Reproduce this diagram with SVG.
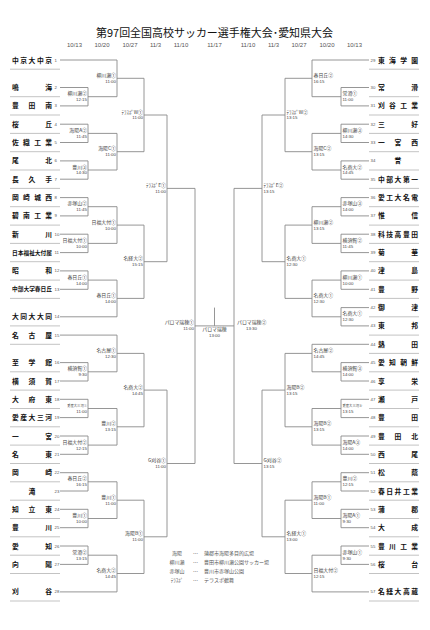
<svg xmlns="http://www.w3.org/2000/svg" width="430" height="630" viewBox="0 0 430 630">
<style>
.bg{fill:#fff}
.ttl{font-family:"Noto Sans CJK JP","Noto Sans",sans-serif;font-size:11px;fill:#111}
.dt{font-family:"Liberation Sans",Arial,sans-serif;font-size:6px;fill:#555;text-anchor:middle}
.tn{font-family:"Noto Sans CJK JP",sans-serif;font-size:6.8px;font-weight:bold;fill:#111}
.tn.s{font-size:5.6px}
.no{font-family:"Liberation Sans",Arial,sans-serif;font-size:4.3px;fill:#555}
.sep{stroke:#b4b4b4;stroke-width:0.8}
.ln{fill:none;stroke:#8a8a8a;stroke-width:0.9}
.v{font-family:"Noto Sans CJK JP",sans-serif;font-size:4.9px;fill:#444}
.v.sm{font-size:3.3px}
.t{font-family:"Liberation Sans",Arial,sans-serif;font-size:4.4px;fill:#444}
.ml text{text-anchor:end}
.mr text{text-anchor:start}
.mc text{text-anchor:middle}
.lg{font-family:"Noto Sans CJK JP",sans-serif;font-size:5px;fill:#555}
</style>
<rect class="bg" x="0" y="0" width="430" height="630"/>
<g id="title"><text class="ttl" x="96" y="37" textLength="237" lengthAdjust="spacingAndGlyphs">第97回全国高校サッカー選手権大会･愛知県大会</text></g>
<g id="dates">
<text class="dt" x="74.5" y="46.5">10/13</text><text class="dt" x="102" y="46.5">10/20</text><text class="dt" x="130" y="46.5">10/27</text><text class="dt" x="155.5" y="46.5">11/3</text><text class="dt" x="181" y="46.5">11/10</text><text class="dt" x="214.5" y="46.5">11/17</text><text class="dt" x="248" y="46.5">11/10</text><text class="dt" x="273.5" y="46.5">11/3</text><text class="dt" x="299" y="46.5">10/27</text><text class="dt" x="327" y="46.5">10/20</text><text class="dt" x="354.5" y="46.5">10/13</text>
</g>
<g id="connectors" class="ln">
<path d="M60,87.5H88V105.9H60M88,96.7H117M60,124.2H88V142.5H60M88,133.4H117M60,160.9H88V179.2H60M88,170H117M60,197.6H88V215.9H60M88,206.7H117M60,234.2H88V252.6H60M88,243.4H117M60,270.9H88V289.3H60M88,280.1H117M60,362.6H88V381H60M88,371.8H117M60,399.3H88V417.6H60M88,408.5H117M60,436H88V454.3H60M88,445.1H117M60,472.7H88V491H60M88,481.8H117M60,509.3H88V527.7H60M88,518.5H117M60,546H88V564.4H60M88,555.2H117"/>
<path d="M60,60H117M60,316.8H117M60,335.1H117M60,591.9H117"/>
<path d="M117,60V96.7M117,78.3H144M117,133.4V170M117,151.7H144M117,206.7V243.4M117,225.1H144M117,280.1V316.8M117,298.4H144M117,335.1V371.8M117,353.4H144M117,408.5V445.1M117,426.8H144M117,481.8V518.5M117,500.2H144M117,555.2V591.9M117,573.5H144"/>
<path d="M144,78.3V151.7M144,115H167M144,225.1V298.4M144,261.7H167M144,353.4V426.8M144,390.1H167M144,500.2V573.5M144,536.8H167"/>
<path d="M167,115V261.7M167,188.4H195M167,390.1V536.8M167,463.5H195"/>
<path d="M195,188.4V463.5M195,325.9H234M214.5,307.6V325.9"/>
<path d="M369,87.5H341V105.9H369M341,96.7H312M369,124.2H341V142.5H369M341,133.4H312M369,160.9H341V179.2H369M341,170H312M369,197.6H341V215.9H369M341,206.7H312M369,234.2H341V252.6H369M341,243.4H312M369,270.9H341V289.3H369M341,280.1H312M369,307.6H341V325.9H369M341,316.8H312M369,362.6H341V381H369M341,371.8H312M369,399.3H341V417.6H369M341,408.5H312M369,436H341V454.3H369M341,445.1H312M369,472.7H341V491H369M341,481.8H312M369,509.3H341V527.7H369M341,518.5H312M369,546H341V564.4H369M341,555.2H312"/>
<path d="M369,60H312M369,344.3H312M369,591.9H312"/>
<path d="M312,60V96.7M312,78.3H285M312,133.4V170M312,151.7H285M312,206.7V243.4M312,225.1H285M312,280.1V316.8M312,298.4H285M312,344.3V371.8M312,353.4H285M312,408.5V445.1M312,426.8H285M312,481.8V518.5M312,500.2H285M312,555.2V591.9M312,573.5H285"/>
<path d="M285,78.3V151.7M285,115H262M285,225.1V298.4M285,261.7H262M285,353.4V426.8M285,390.1H262M285,500.2V573.5M285,536.8H262"/>
<path d="M262,115V261.7M262,188.4H234M262,390.1V536.8M262,463.5H234M234,188.4V463.5"/>
</g>
<g id="team-1"><text class="tn" x="12" y="62.5" textLength="40" lengthAdjust="spacing">中京大中京</text><text class="no" x="54.5" y="61.5">1</text><line class="sep" x1="10" x2="60" y1="69.2" y2="69.2"/></g>
<g id="team-2"><text class="tn" x="12" y="90" textLength="40" lengthAdjust="spacing">鳴海</text><text class="no" x="54.5" y="89">2</text><line class="sep" x1="10" x2="60" y1="96.7" y2="96.7"/></g>
<g id="team-3"><text class="tn" x="12" y="108.4" textLength="40" lengthAdjust="spacing">豊田南</text><text class="no" x="54.5" y="107.4">3</text><line class="sep" x1="10" x2="60" y1="115" y2="115"/></g>
<g id="team-4"><text class="tn" x="12" y="126.7" textLength="40" lengthAdjust="spacing">桜丘</text><text class="no" x="54.5" y="125.7">4</text><line class="sep" x1="10" x2="60" y1="133.4" y2="133.4"/></g>
<g id="team-5"><text class="tn" x="12" y="145" textLength="40" lengthAdjust="spacing">佐織工業</text><text class="no" x="54.5" y="144">5</text><line class="sep" x1="10" x2="60" y1="151.7" y2="151.7"/></g>
<g id="team-6"><text class="tn" x="12" y="163.4" textLength="40" lengthAdjust="spacing">尾北</text><text class="no" x="54.5" y="162.4">6</text><line class="sep" x1="10" x2="60" y1="170" y2="170"/></g>
<g id="team-7"><text class="tn" x="12" y="181.7" textLength="40" lengthAdjust="spacing">長久手</text><text class="no" x="54.5" y="180.7">7</text><line class="sep" x1="10" x2="60" y1="188.4" y2="188.4"/></g>
<g id="team-8"><text class="tn" x="12" y="200.1" textLength="40" lengthAdjust="spacing">岡崎城西</text><text class="no" x="54.5" y="199.1">8</text><line class="sep" x1="10" x2="60" y1="206.7" y2="206.7"/></g>
<g id="team-9"><text class="tn" x="12" y="218.4" textLength="40" lengthAdjust="spacing">碧南工業</text><text class="no" x="54.5" y="217.4">9</text><line class="sep" x1="10" x2="60" y1="225.1" y2="225.1"/></g>
<g id="team-10"><text class="tn" x="12" y="236.7" textLength="40" lengthAdjust="spacing">新川</text><text class="no" x="54.5" y="235.7">10</text><line class="sep" x1="10" x2="60" y1="243.4" y2="243.4"/></g>
<g id="team-11"><text class="tn s" x="12" y="254.6" textLength="40" lengthAdjust="spacingAndGlyphs">日本福祉大付属</text><text class="no" x="54.5" y="254.1">11</text><line class="sep" x1="10" x2="60" y1="261.7" y2="261.7"/></g>
<g id="team-12"><text class="tn" x="12" y="273.4" textLength="40" lengthAdjust="spacing">昭和</text><text class="no" x="54.5" y="272.4">12</text><line class="sep" x1="10" x2="60" y1="280.1" y2="280.1"/></g>
<g id="team-13"><text class="tn s" x="12" y="291.3" textLength="40" lengthAdjust="spacingAndGlyphs">中部大学春日丘</text><text class="no" x="54.5" y="290.8">13</text><line class="sep" x1="10" x2="60" y1="298.4" y2="298.4"/></g>
<g id="team-14"><text class="tn" x="12" y="319.3" textLength="40" lengthAdjust="spacing">大同大大同</text><text class="no" x="54.5" y="318.3">14</text><line class="sep" x1="10" x2="60" y1="325.9" y2="325.9"/></g>
<g id="team-15"><text class="tn" x="12" y="337.6" textLength="40" lengthAdjust="spacing">名古屋</text><text class="no" x="54.5" y="336.6">15</text><line class="sep" x1="10" x2="60" y1="344.3" y2="344.3"/></g>
<g id="team-16"><text class="tn" x="12" y="365.1" textLength="40" lengthAdjust="spacing">至学館</text><text class="no" x="54.5" y="364.1">16</text><line class="sep" x1="10" x2="60" y1="371.8" y2="371.8"/></g>
<g id="team-17"><text class="tn" x="12" y="383.5" textLength="40" lengthAdjust="spacing">横須賀</text><text class="no" x="54.5" y="382.5">17</text><line class="sep" x1="10" x2="60" y1="390.1" y2="390.1"/></g>
<g id="team-18"><text class="tn" x="12" y="401.8" textLength="40" lengthAdjust="spacing">大府東</text><text class="no" x="54.5" y="400.8">18</text><line class="sep" x1="10" x2="60" y1="408.5" y2="408.5"/></g>
<g id="team-19"><text class="tn" x="12" y="420.1" textLength="40" lengthAdjust="spacing">愛産大三河</text><text class="no" x="54.5" y="419.1">19</text><line class="sep" x1="10" x2="60" y1="426.8" y2="426.8"/></g>
<g id="team-20"><text class="tn" x="12" y="438.5" textLength="40" lengthAdjust="spacing">一宮</text><text class="no" x="54.5" y="437.5">20</text><line class="sep" x1="10" x2="60" y1="445.1" y2="445.1"/></g>
<g id="team-21"><text class="tn" x="12" y="456.8" textLength="40" lengthAdjust="spacing">名東</text><text class="no" x="54.5" y="455.8">21</text><line class="sep" x1="10" x2="60" y1="463.5" y2="463.5"/></g>
<g id="team-22"><text class="tn" x="12" y="475.2" textLength="40" lengthAdjust="spacing">岡崎</text><text class="no" x="54.5" y="474.2">22</text><line class="sep" x1="10" x2="60" y1="481.8" y2="481.8"/></g>
<g id="team-23"><text class="tn" x="32" y="493.5" text-anchor="middle">滝</text><text class="no" x="54.5" y="492.5">23</text><line class="sep" x1="10" x2="60" y1="500.2" y2="500.2"/></g>
<g id="team-24"><text class="tn" x="12" y="511.8" textLength="40" lengthAdjust="spacing">知立東</text><text class="no" x="54.5" y="510.8">24</text><line class="sep" x1="10" x2="60" y1="518.5" y2="518.5"/></g>
<g id="team-25"><text class="tn" x="12" y="530.2" textLength="40" lengthAdjust="spacing">豊川</text><text class="no" x="54.5" y="529.2">25</text><line class="sep" x1="10" x2="60" y1="536.8" y2="536.8"/></g>
<g id="team-26"><text class="tn" x="12" y="548.5" textLength="40" lengthAdjust="spacing">愛知</text><text class="no" x="54.5" y="547.5">26</text><line class="sep" x1="10" x2="60" y1="555.2" y2="555.2"/></g>
<g id="team-27"><text class="tn" x="12" y="566.9" textLength="40" lengthAdjust="spacing">向陽</text><text class="no" x="54.5" y="565.9">27</text><line class="sep" x1="10" x2="60" y1="573.5" y2="573.5"/></g>
<g id="team-28"><text class="tn" x="12" y="594.4" textLength="40" lengthAdjust="spacing">刈谷</text><text class="no" x="54.5" y="593.4">28</text><line class="sep" x1="10" x2="60" y1="601" y2="601"/></g>
<g id="team-29"><text class="tn" x="378" y="62.5" textLength="40" lengthAdjust="spacing">東海学園</text><text class="no" x="370.5" y="61.5">29</text><line class="sep" x1="369" x2="419" y1="69.2" y2="69.2"/></g>
<g id="team-30"><text class="tn" x="378" y="90" textLength="40" lengthAdjust="spacing">常滑</text><text class="no" x="370.5" y="89">30</text><line class="sep" x1="369" x2="419" y1="96.7" y2="96.7"/></g>
<g id="team-31"><text class="tn" x="378" y="108.4" textLength="40" lengthAdjust="spacing">刈谷工業</text><text class="no" x="370.5" y="107.4">31</text><line class="sep" x1="369" x2="419" y1="115" y2="115"/></g>
<g id="team-32"><text class="tn" x="378" y="126.7" textLength="40" lengthAdjust="spacing">三好</text><text class="no" x="370.5" y="125.7">32</text><line class="sep" x1="369" x2="419" y1="133.4" y2="133.4"/></g>
<g id="team-33"><text class="tn" x="378" y="145" textLength="40" lengthAdjust="spacing">一宮西</text><text class="no" x="370.5" y="144">33</text><line class="sep" x1="369" x2="419" y1="151.7" y2="151.7"/></g>
<g id="team-34"><text class="tn" x="398" y="163.4" text-anchor="middle">誉</text><text class="no" x="370.5" y="162.4">34</text><line class="sep" x1="369" x2="419" y1="170" y2="170"/></g>
<g id="team-35"><text class="tn" x="378" y="181.7" textLength="40" lengthAdjust="spacing">中部大第一</text><text class="no" x="370.5" y="180.7">35</text><line class="sep" x1="369" x2="419" y1="188.4" y2="188.4"/></g>
<g id="team-36"><text class="tn" x="378" y="200.1" textLength="40" lengthAdjust="spacing">愛工大名電</text><text class="no" x="370.5" y="199.1">36</text><line class="sep" x1="369" x2="419" y1="206.7" y2="206.7"/></g>
<g id="team-37"><text class="tn" x="378" y="218.4" textLength="40" lengthAdjust="spacing">惟信</text><text class="no" x="370.5" y="217.4">37</text><line class="sep" x1="369" x2="419" y1="225.1" y2="225.1"/></g>
<g id="team-38"><text class="tn" x="378" y="236.7" textLength="40" lengthAdjust="spacing">科技高豊田</text><text class="no" x="370.5" y="235.7">38</text><line class="sep" x1="369" x2="419" y1="243.4" y2="243.4"/></g>
<g id="team-39"><text class="tn" x="378" y="255.1" textLength="40" lengthAdjust="spacing">菊華</text><text class="no" x="370.5" y="254.1">39</text><line class="sep" x1="369" x2="419" y1="261.7" y2="261.7"/></g>
<g id="team-40"><text class="tn" x="378" y="273.4" textLength="40" lengthAdjust="spacing">津島</text><text class="no" x="370.5" y="272.4">40</text><line class="sep" x1="369" x2="419" y1="280.1" y2="280.1"/></g>
<g id="team-41"><text class="tn" x="378" y="291.8" textLength="40" lengthAdjust="spacing">豊野</text><text class="no" x="370.5" y="290.8">41</text><line class="sep" x1="369" x2="419" y1="298.4" y2="298.4"/></g>
<g id="team-42"><text class="tn" x="378" y="310.1" textLength="40" lengthAdjust="spacing">御津</text><text class="no" x="370.5" y="309.1">42</text><line class="sep" x1="369" x2="419" y1="316.8" y2="316.8"/></g>
<g id="team-43"><text class="tn" x="378" y="328.4" textLength="40" lengthAdjust="spacing">東邦</text><text class="no" x="370.5" y="327.4">43</text><line class="sep" x1="369" x2="419" y1="335.1" y2="335.1"/></g>
<g id="team-44"><text class="tn" x="378" y="346.8" textLength="40" lengthAdjust="spacing">熱田</text><text class="no" x="370.5" y="345.8">44</text><line class="sep" x1="369" x2="419" y1="353.4" y2="353.4"/></g>
<g id="team-45"><text class="tn" x="378" y="365.1" textLength="40" lengthAdjust="spacing">愛知朝鮮</text><text class="no" x="370.5" y="364.1">45</text><line class="sep" x1="369" x2="419" y1="371.8" y2="371.8"/></g>
<g id="team-46"><text class="tn" x="378" y="383.5" textLength="40" lengthAdjust="spacing">享栄</text><text class="no" x="370.5" y="382.5">46</text><line class="sep" x1="369" x2="419" y1="390.1" y2="390.1"/></g>
<g id="team-47"><text class="tn" x="378" y="401.8" textLength="40" lengthAdjust="spacing">瀬戸</text><text class="no" x="370.5" y="400.8">47</text><line class="sep" x1="369" x2="419" y1="408.5" y2="408.5"/></g>
<g id="team-48"><text class="tn" x="378" y="420.1" textLength="40" lengthAdjust="spacing">豊田</text><text class="no" x="370.5" y="419.1">48</text><line class="sep" x1="369" x2="419" y1="426.8" y2="426.8"/></g>
<g id="team-49"><text class="tn" x="378" y="438.5" textLength="40" lengthAdjust="spacing">豊田北</text><text class="no" x="370.5" y="437.5">49</text><line class="sep" x1="369" x2="419" y1="445.1" y2="445.1"/></g>
<g id="team-50"><text class="tn" x="378" y="456.8" textLength="40" lengthAdjust="spacing">西尾</text><text class="no" x="370.5" y="455.8">50</text><line class="sep" x1="369" x2="419" y1="463.5" y2="463.5"/></g>
<g id="team-51"><text class="tn" x="378" y="475.2" textLength="40" lengthAdjust="spacing">松蔭</text><text class="no" x="370.5" y="474.2">51</text><line class="sep" x1="369" x2="419" y1="481.8" y2="481.8"/></g>
<g id="team-52"><text class="tn" x="378" y="493.5" textLength="40" lengthAdjust="spacing">春日井工業</text><text class="no" x="370.5" y="492.5">52</text><line class="sep" x1="369" x2="419" y1="500.2" y2="500.2"/></g>
<g id="team-53"><text class="tn" x="378" y="511.8" textLength="40" lengthAdjust="spacing">蒲郡</text><text class="no" x="370.5" y="510.8">53</text><line class="sep" x1="369" x2="419" y1="518.5" y2="518.5"/></g>
<g id="team-54"><text class="tn" x="378" y="530.2" textLength="40" lengthAdjust="spacing">大成</text><text class="no" x="370.5" y="529.2">54</text><line class="sep" x1="369" x2="419" y1="536.8" y2="536.8"/></g>
<g id="team-55"><text class="tn" x="378" y="548.5" textLength="40" lengthAdjust="spacing">豊川工業</text><text class="no" x="370.5" y="547.5">55</text><line class="sep" x1="369" x2="419" y1="555.2" y2="555.2"/></g>
<g id="team-56"><text class="tn" x="378" y="566.9" textLength="40" lengthAdjust="spacing">桜台</text><text class="no" x="370.5" y="565.9">56</text><line class="sep" x1="369" x2="419" y1="573.5" y2="573.5"/></g>
<g id="team-57"><text class="tn" x="378" y="594.4" textLength="40" lengthAdjust="spacing">名経大高蔵</text><text class="no" x="370.5" y="593.4">57</text><line class="sep" x1="369" x2="419" y1="601" y2="601"/></g>
<g id="matches-left" class="ml">
<g id="mL1a"><text class="v" x="87" y="95.2">柳川瀬②</text><text class="t" x="87" y="101.1">12:15</text></g>
<g id="mL1b"><text class="v" x="87" y="131.9">海陽A②</text><text class="t" x="87" y="137.8">11:45</text></g>
<g id="mL1c"><text class="v" x="87" y="168.5">豊川③</text><text class="t" x="87" y="174.4">14:30</text></g>
<g id="mL1d"><text class="v" x="87" y="205.2">赤塚山②</text><text class="t" x="87" y="211.1">11:45</text></g>
<g id="mL1e"><text class="v" x="87" y="241.9">日福大付①</text><text class="t" x="87" y="247.8">10:00</text></g>
<g id="mL1f"><text class="v" x="87" y="278.6">春日丘①</text><text class="t" x="87" y="284.5">14:00</text></g>
<g id="mL1g"><text class="v" x="87" y="370.3">横須賀①</text><text class="t" x="87" y="376.2">9:30</text></g>
<g id="mL1h"><text class="v sm" x="87" y="407">愛産大三河①</text><text class="t" x="87" y="412.9">11:00</text></g>
<g id="mL1i"><text class="v" x="87" y="443.6">日福大付②</text><text class="t" x="87" y="449.5">12:15</text></g>
<g id="mL1j"><text class="v" x="87" y="480.3">春日丘②</text><text class="t" x="87" y="486.2">16:15</text></g>
<g id="mL1k"><text class="v" x="87" y="517">豊川①</text><text class="t" x="87" y="522.9">10:00</text></g>
<g id="mL1l"><text class="v" x="87" y="553.7">常滑②</text><text class="t" x="87" y="559.6">13:15</text></g>
<g id="mL2a"><text class="v" x="116" y="76.8">柳川瀬①</text><text class="t" x="116" y="82.7">11:00</text></g>
<g id="mL2b"><text class="v" x="116" y="150.2">海陽C①</text><text class="t" x="116" y="156.1">11:00</text></g>
<g id="mL2c"><text class="v" x="116" y="223.6">日福大付①</text><text class="t" x="116" y="229.5">10:00</text></g>
<g id="mL2d"><text class="v" x="116" y="296.9">春日丘①</text><text class="t" x="116" y="302.8">14:00</text></g>
<g id="mL2e"><text class="v" x="116" y="351.9">名古屋①</text><text class="t" x="116" y="357.8">12:30</text></g>
<g id="mL2f"><text class="v" x="116" y="425.3">豊川②</text><text class="t" x="116" y="431.2">13:15</text></g>
<g id="mL2g"><text class="v" x="116" y="498.7">豊川①</text><text class="t" x="116" y="504.6">11:00</text></g>
<g id="mL2h"><text class="v" x="116" y="572">名商大②</text><text class="t" x="116" y="577.9">14:45</text></g>
<g id="mL3a"><text class="v" x="143" y="113.5">ﾃﾗｽﾎﾟW①</text><text class="t" x="143" y="119.4">11:00</text></g>
<g id="mL3b"><text class="v" x="143" y="260.2">名経大②</text><text class="t" x="143" y="266.1">15:15</text></g>
<g id="mL3c"><text class="v" x="143" y="388.6">名商大②</text><text class="t" x="143" y="394.5">14:45</text></g>
<g id="mL3d"><text class="v" x="143" y="535.3">海陽B①</text><text class="t" x="143" y="541.2">11:00</text></g>
<g id="mL4a"><text class="v" x="166" y="186.9">ﾃﾗｽﾎﾟE①</text><text class="t" x="166" y="192.8">11:00</text></g>
<g id="mL4b"><text class="v" x="166" y="462">G刈谷①</text><text class="t" x="166" y="467.9">11:00</text></g>
<g id="mL5"><text class="v" x="194" y="324.4">パロマ瑞穂①</text><text class="t" x="194" y="330.3">11:00</text></g>
</g>
<g id="match-final" class="mc"><text class="v" x="214.5" y="331">パロマ瑞穂</text><text class="t" x="214.5" y="336.5">13:00</text></g>
<g id="matches-right" class="mr">
<g id="mR1a"><text class="v" x="342.5" y="95.2">常滑①</text><text class="t" x="342.5" y="101.1">11:00</text></g>
<g id="mR1b"><text class="v" x="342.5" y="131.9">柳川瀬③</text><text class="t" x="342.5" y="137.8">14:30</text></g>
<g id="mR1c"><text class="v" x="342.5" y="168.5">名商大②</text><text class="t" x="342.5" y="174.4">14:45</text></g>
<g id="mR1d"><text class="v" x="342.5" y="205.2">赤塚山③</text><text class="t" x="342.5" y="211.1">14:00</text></g>
<g id="mR1e"><text class="v" x="342.5" y="241.9">横須賀②</text><text class="t" x="342.5" y="247.8">11:45</text></g>
<g id="mR1f"><text class="v" x="342.5" y="278.6">柳川瀬①</text><text class="t" x="342.5" y="284.5">10:00</text></g>
<g id="mR1g"><text class="v" x="342.5" y="315.3">名商大①</text><text class="t" x="342.5" y="321.2">12:30</text></g>
<g id="mR1h"><text class="v" x="342.5" y="370.3">横須賀③</text><text class="t" x="342.5" y="376.2">14:00</text></g>
<g id="mR1i"><text class="v sm" x="342.5" y="407">愛産大三河②</text><text class="t" x="342.5" y="412.9">13:15</text></g>
<g id="mR1j"><text class="v" x="342.5" y="443.6">海陽A③</text><text class="t" x="342.5" y="449.5">14:00</text></g>
<g id="mR1k"><text class="v" x="342.5" y="480.3">豊川②</text><text class="t" x="342.5" y="486.2">12:15</text></g>
<g id="mR1l"><text class="v" x="342.5" y="517">海陽A①</text><text class="t" x="342.5" y="522.9">9:30</text></g>
<g id="mR1m"><text class="v" x="342.5" y="553.7">赤塚山①</text><text class="t" x="342.5" y="559.6">9:30</text></g>
<g id="mR2a"><text class="v" x="313.5" y="76.8">春日丘②</text><text class="t" x="313.5" y="82.7">16:15</text></g>
<g id="mR2b"><text class="v" x="313.5" y="150.2">海陽C②</text><text class="t" x="313.5" y="156.1">13:15</text></g>
<g id="mR2c"><text class="v" x="313.5" y="223.6">柳川瀬②</text><text class="t" x="313.5" y="229.5">13:15</text></g>
<g id="mR2d"><text class="v" x="313.5" y="296.9">名商大①</text><text class="t" x="313.5" y="302.8">12:30</text></g>
<g id="mR2e"><text class="v" x="313.5" y="351.9">名古屋②</text><text class="t" x="313.5" y="357.8">14:45</text></g>
<g id="mR2f"><text class="v" x="313.5" y="425.3">海陽B②</text><text class="t" x="313.5" y="431.2">13:15</text></g>
<g id="mR2g"><text class="v" x="313.5" y="498.7">海陽B①</text><text class="t" x="313.5" y="504.6">11:00</text></g>
<g id="mR2h"><text class="v" x="313.5" y="572">日福大付②</text><text class="t" x="313.5" y="577.9">12:15</text></g>
<g id="mR3a"><text class="v" x="286.5" y="113.5">ﾃﾗｽﾎﾟW②</text><text class="t" x="286.5" y="119.4">13:15</text></g>
<g id="mR3b"><text class="v" x="286.5" y="260.2">名商大①</text><text class="t" x="286.5" y="266.1">12:30</text></g>
<g id="mR3c"><text class="v" x="286.5" y="388.6">海陽B②</text><text class="t" x="286.5" y="394.5">13:15</text></g>
<g id="mR3d"><text class="v" x="286.5" y="535.3">名経大①</text><text class="t" x="286.5" y="541.2">13:00</text></g>
<g id="mR4a"><text class="v" x="263.5" y="186.9">ﾃﾗｽﾎﾟE②</text><text class="t" x="263.5" y="192.8">13:15</text></g>
<g id="mR4b"><text class="v" x="263.5" y="462">G刈谷②</text><text class="t" x="263.5" y="467.9">13:15</text></g>
<g id="mR5"><text class="v" x="237" y="324.4">パロマ瑞穂②</text><text class="t" x="246" y="330.3">13:30</text></g>
</g>
<g id="legend" class="lg">
<text x="177" y="554.5" text-anchor="middle">海陽</text><text x="195.5" y="554.5" text-anchor="middle">…</text><text x="204" y="554.5">蒲郡市海陽多目的広場</text>
<text x="177" y="563.5" text-anchor="middle">柳川瀬</text><text x="195.5" y="563.5" text-anchor="middle">…</text><text x="204" y="563.5">豊田市柳川瀬公園サッカー場</text>
<text x="177" y="572.8" text-anchor="middle">赤塚山</text><text x="195.5" y="572.8" text-anchor="middle">…</text><text x="204" y="572.8">豊川市赤塚山公園</text>
<text x="177" y="581.8" text-anchor="middle">ﾃﾗｽﾎﾟ</text><text x="195.5" y="581.8" text-anchor="middle">…</text><text x="204" y="581.8">テラスポ鶴舞</text>
</g>
</svg>
